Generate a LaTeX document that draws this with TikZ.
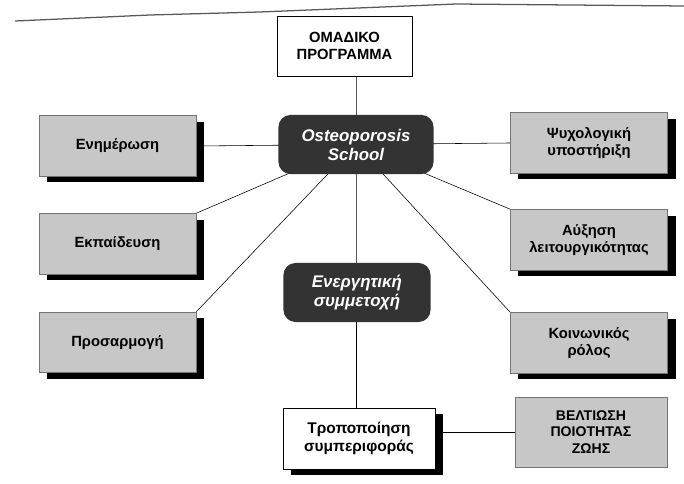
\documentclass[tikz,border=0pt]{standalone}
\usepackage{fontspec}
\setmainfont{Liberation Sans}
\usetikzlibrary{positioning,shadows,backgrounds}

\begin{document}
\begin{tikzpicture}[x=0.025cm, y=-0.025cm, line width=0.6pt,
    base/.style={rectangle, align=center, inner sep=2pt, font=\bfseries\fontsize{10.5}{12}\selectfont},
    plainbox/.style={base, draw, fill=white, minimum width=3.375cm, minimum height=1.5cm},
    greybox/.style={base, draw=black!55, fill=black!22, minimum width=3.925cm, minimum height=1.52cm},
    shadowed/.style={drop shadow={shadow xshift=0.2cm, shadow yshift=-0.15cm, fill=black, opacity=1}},
    roundbox/.style={base, fill=black!80, text=white, rounded corners=0.3cm, minimum height=1.475cm, font=\bfseries\itshape\fontsize{12}{13.5}\selectfont}]
    \useasboundingbox (0,0) rectangle (684,484);

    % scanned page edge
    \draw[black!65, line width=0.9pt] (15,21) -- (150,15) -- (260,12) -- (456,4) -- (684,6);

    % middle column
    \node [plainbox] (prog) at (344.5,46) {ΟΜΑΔΙΚΟ\\ΠΡΟΓΡΑΜΜΑ};
    \node [roundbox, minimum width=3.875cm] (school) at (356,144.5) {Osteoporosis\\School};
    \node [roundbox, minimum width=3.675cm] (active) at (357,292.5) {Ενεργητική\\συμμετοχή};
    \node [plainbox, shadowed, minimum width=3.8cm, minimum height=1.525cm, font=\bfseries\fontsize{11}{13}\selectfont] (behav) at (359,438.5) {Τροποποίηση\\συμπεριφοράς};
    \node [greybox, minimum width=3.8cm, minimum height=1.75cm, font=\bfseries\fontsize{10}{12}\selectfont] (quality) at (591,432) {ΒΕΛΤΙΩΣΗ\\ΠΟΙΟΤΗΤΑΣ\\ΖΩΗΣ};

    % left and right boxes
    \foreach \name/\y/\txt in {inform/146/Ενημέρωση, educ/244/Εκπαίδευση, adapt/342.5/Προσαρμογή} {
        \node [greybox, shadowed] (\name) at (117.5,\y) {\txt};
    }
    \foreach \name/\y/\txt in {psych/143/{Ψυχολογική\\υποστήριξη}, func/240/{Αύξηση\\λειτουργικότητας}, social/343/{Κοινωνικός\\ρόλος}} {
        \node [greybox, shadowed] (\name) at (589,\y) {\txt};
    }

    % Connections
    \begin{scope}[on background layer]
        \draw (prog.south -| school.center) -- (school.center) -- (school.center |- behav.north);
        \draw (school.center) -- (inform.east);
        \draw (school.center) -- (educ.north east);
        \draw (school.center) -- (adapt.north east);
        \draw (school.center) -- (psych.west);
        \draw (school.center) -- (func.north west);
        \draw (school.center) -- (social.north west);
    \end{scope}
    \draw (quality.west -| behav.east) -- (quality.west);
\end{tikzpicture}
\end{document}
